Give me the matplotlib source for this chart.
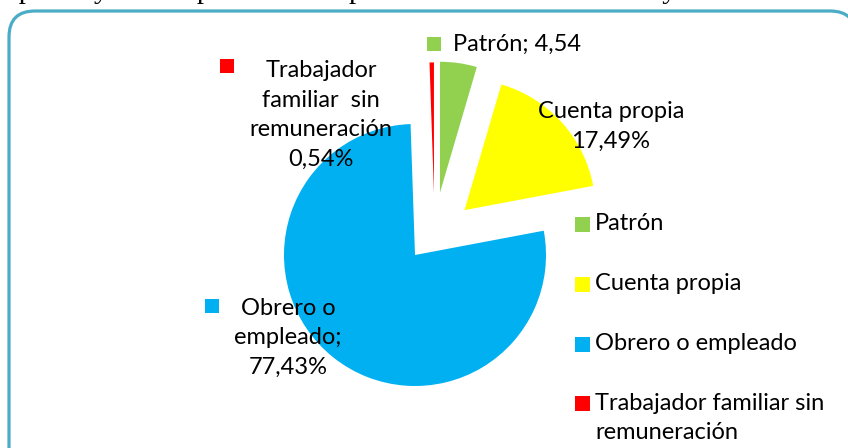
import matplotlib
matplotlib.use("Agg")
import matplotlib.pyplot as plt
from matplotlib.patches import FancyBboxPatch, Rectangle

# ---- data ----
categories = ["Patrón", "Cuenta propia", "Obrero o empleado", "Trabajador familiar sin remuneración"]
legend_labels = ["Patrón", "Cuenta propia", "Obrero o empleado", "Trabajador familiar sin\nremuneración"]
values = [4.54, 17.49, 77.43, 0.54]
data_labels = ["Patrón; 4,54", "Cuenta propia\n17,49%", "Obrero o\nempleado;\n77,43%",
               "Trabajador\nfamiliar  sin\nremuneración\n0,54%"]
colors = ["#92D050", "#FFFF00", "#00B0F0", "#FF0000"]
explode_frac = [0.48, 0.51, 0.0, 0.47]
title_text = "Ocupados y desocupados de ocupación en el sector urbano y rural del cantón"

W, H = 848, 448
R = 131
fig = plt.figure(figsize=(W / 100, H / 100), dpi=100)
ax = fig.add_axes([0, 0, 1, 1])

font = "Lato"
fs = 17

# frame
frame = FancyBboxPatch((9, -30), 847, 30 + (H - 11), boxstyle="round,pad=0,rounding_size=26",
                       facecolor="white", edgecolor="#4BACC6", linewidth=2.3, zorder=0,
                       transform=ax.transData)
ax.add_patch(frame)

wedges, _ = ax.pie(values, colors=colors, startangle=90, counterclock=False,
                   explode=[e * R for e in explode_frac], radius=R, center=(415, 193),
                   wedgeprops=dict(linewidth=0))
# small horizontal nudges as in the reference
nudges = [16, 0, 0, 20]
for w, dx in zip(wedges, nudges):
    cx, cy = w.center
    w.set_center((cx + dx, cy))

ax.set_xlim(0, W)
ax.set_ylim(0, H)
ax.set_aspect("equal")
ax.axis("off")

def px(x, y):
    return x, H - y

LS = 1.52
# data labels
ax.text(*px(453, 44), data_labels[0], ha="left", va="center", fontsize=fs, family=font)
ax.add_patch(Rectangle(px(427, 51), 14, 14, facecolor=colors[0], edgecolor="none"))

ax.text(*px(611, 126), data_labels[1], ha="center", va="center", fontsize=fs, family=font, linespacing=LS)

ax.text(*px(288, 338), data_labels[2], ha="center", va="center", fontsize=fs, family=font, linespacing=LS)
ax.add_patch(Rectangle(px(205, 313), 14, 14, facecolor=colors[2], edgecolor="none"))

ax.text(*px(321, 115), data_labels[3], ha="center", va="center", fontsize=fs, family=font, linespacing=LS)
ax.add_patch(Rectangle(px(220, 73), 14, 14, facecolor=colors[3], edgecolor="none"))

# legend (drawn manually so the square aligns with the first line of a wrapped label)
leg_x, leg_y0, leg_pitch = 575, 224, 60
for i, (lab, c) in enumerate(zip(legend_labels, colors)):
    yc = leg_y0 + i * leg_pitch
    ax.add_patch(Rectangle(px(leg_x, yc + 7.5), 15, 15, facecolor=c, edgecolor="none"))
    ax.text(*px(leg_x + 20, yc - 11), lab, ha="left", va="top", fontsize=fs,
            family=font, linespacing=1.48)

# clipped title at the very top
ax.text(-30, H + 2, title_text, ha="left", va="baseline", fontsize=21,
        family="Liberation Serif", clip_on=False)

fig.savefig("out.png", dpi=100)
